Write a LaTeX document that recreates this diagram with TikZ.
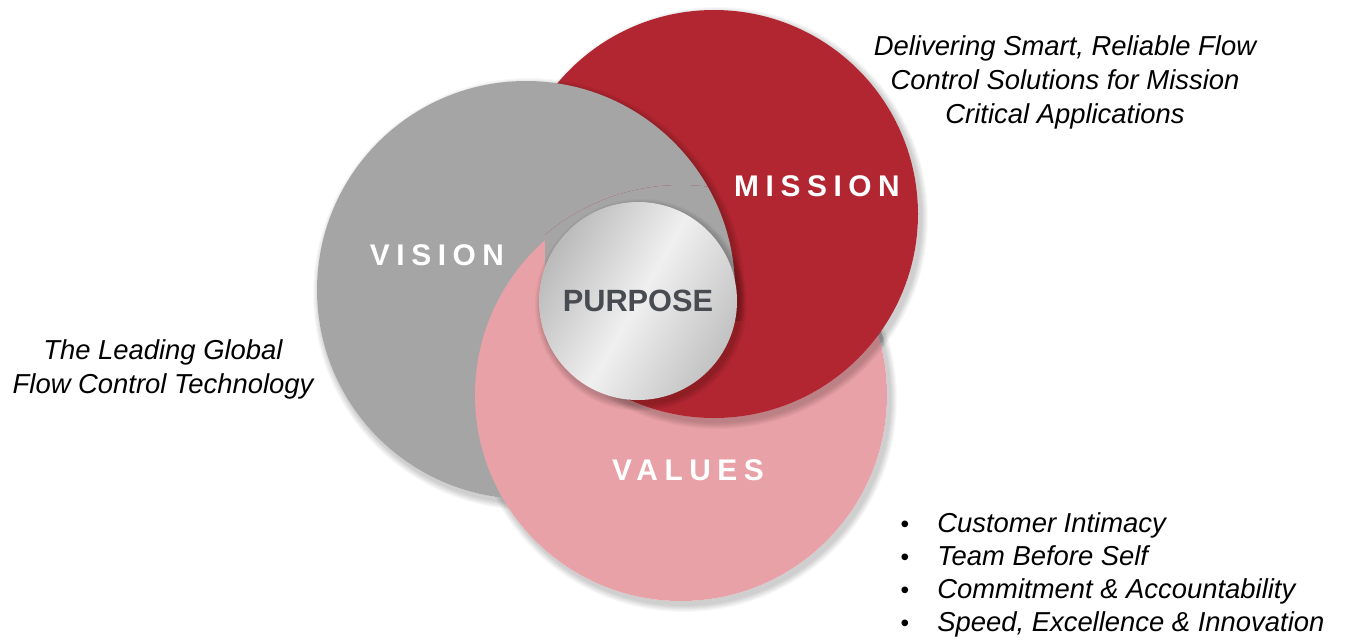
\documentclass[tikz,border=0pt]{standalone}
\usepackage{fontspec}
\setmainfont{Liberation Sans}
\usetikzlibrary{positioning,calc}

\definecolor{missionred}{RGB}{178,38,50}
\definecolor{visiongray}{RGB}{165,165,165}
\definecolor{valuespink}{RGB}{232,161,166}
\definecolor{purposetext}{RGB}{72,76,80}

% soft shadow ring round a disc: centre, radius
\newcommand{\circshadow}[2]{%
  \foreach \k in {1,...,7}
    \fill[black, opacity=0.028, even odd rule]
      ($(#1)+(3,4)$) circle ({#2+8-\k}) (#1) circle (#2);
}

\begin{document}
\begin{tikzpicture}[x=0.02cm, y=-0.02cm,
    bigword/.style={text=white, font=\bfseries\fontsize{17}{17}\selectfont\addfontfeature{LetterSpace=22}},
    blurb/.style={font=\itshape\fontsize{15.6}{19.3}\selectfont, align=center, inner sep=0pt}]

    % canvas
    \useasboundingbox[fill=white] (0,0) rectangle (1348,640);

    % circle centres
    \coordinate (mis) at (714,214);
    \coordinate (vis) at (526,290);
    \coordinate (val) at (681,395);
    \coordinate (pur) at (638,301);

    % the three rings
    \circshadow{val}{206}
    \circshadow{mis}{204}
    \fill[missionred] (mis) circle (204);
    \circshadow{vis}{209}
    \fill[visiongray] (vis) circle (209);
    \fill[valuespink] (val) circle (206);

    % mission lies over values ...
    \begin{scope}
      \clip (val) circle (210);
      \clip (545,0) rectangle (960,640);
      \circshadow{mis}{204}
      \fill[missionred] (mis) circle (204);
    \end{scope}
    % ... and under vision above the middle
    \begin{scope}
      \clip (val) circle (210);
      \clip (mis) circle (204);
      \clip (545,0) rectangle (960,320);
      \circshadow{vis}{209}
      \fill[visiongray] (vis) circle (209);
    \end{scope}

    % purpose in the middle
    \circshadow{pur}{99}
    \shade[left color=black!27, right color=black!24, middle color=black!6,
      shading angle=60] (pur) circle (99);

    % titles
    \node[bigword] (vision) at (437,255) {VISION};
    \node[bigword] (mission) at (817,186) {MISSION};
    \node[bigword] (values) at (688,470) {VALUES};
    \node[font=\bfseries\fontsize{17.5}{17.5}\selectfont, text=purposetext] (purpose) at (pur) {PURPOSE};

    % statements
    \node[blurb, anchor=north] (missiontext) at (1065,35)
      {Delivering Smart, Reliable Flow\\Control Solutions for Mission\\Critical Applications};
    \node[blurb, anchor=north] (visiontext) at (163,339)
      {The Leading Global\\Flow Control Technology};

    % values list
    \foreach \txt [count=\i] in {Customer Intimacy, Team Before Self,
        Commitment \& Accountability, {Speed, Excellence \& Innovation}} {
      \node[anchor=base, font=\fontsize{14}{14}\selectfont] (bullet\i) at (905,499+33*\i) {\textbullet};
      \node[blurb, anchor=base west] (value\i) at (937,499+33*\i) {\txt};
    }
\end{tikzpicture}
\end{document}
